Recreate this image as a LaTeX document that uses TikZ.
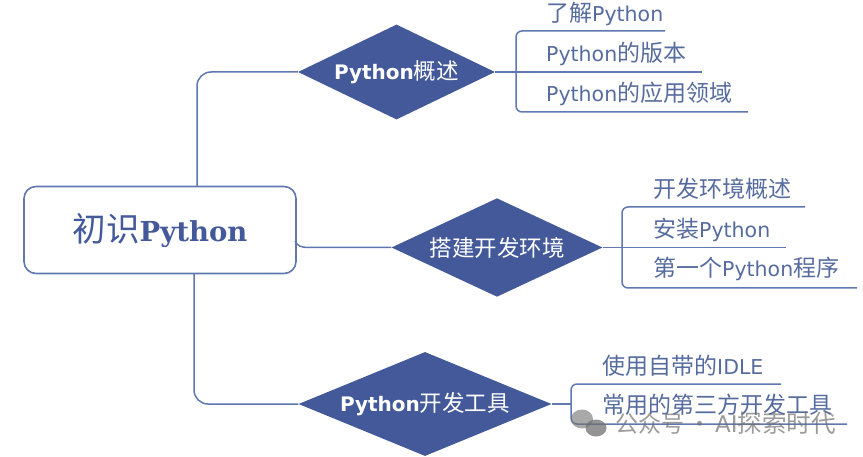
\documentclass[tikz,border=0pt]{standalone}
\usepackage{fontspec}
\setmainfont{DejaVu Sans}
\newfontfamily\cjkfam{Noto Sans CJK SC}
\newfontfamily\slabfam{DejaVu Serif}
\newcommand{\cj}[1]{{\cjkfam\fontsize{23}{23}\selectfont #1}}
\newcommand{\cjt}[1]{{\cjkfam\mdseries\fontsize{22.5}{22.5}\selectfont #1}}
\usetikzlibrary{shapes.geometric}
\definecolor{navy}{HTML}{43599A}
\definecolor{rule}{HTML}{5F78B0}
\definecolor{ink}{HTML}{566C9E}
\definecolor{wm}{HTML}{707070}
\tikzset{
 px/.style={x=1pt,y=-1pt},
 link/.style={draw=rule,line width=1.5pt,line join=round},
 rootbox/.style={draw=rule,line width=1.6pt,rounded corners=12pt,minimum width=272pt,minimum height=87pt,inner sep=0pt,fill=white},
 topic/.style={diamond,fill=navy,text=white,inner sep=0pt,font=\bfseries\fontsize{20}{20}\selectfont},
 leaf/.style={text=ink,anchor=west,inner sep=0pt,font=\fontsize{20.5}{20.5}\selectfont},
}
\begin{document}
\begin{tikzpicture}[px]
\useasboundingbox (0,0) rectangle (863,457);
\node[rootbox] (root) at (160,230) {};
\node[text=navy,inner sep=0pt] (rootlabel) at (160,230) {{\cjkfam\fontsize{33.5}{33.5}\selectfont 初识}{\slabfam\bfseries\fontsize{27.5}{27.5}\selectfont Python}};
\node[topic,aspect=2.08,minimum width=197pt,minimum height=95pt] (t1) at (396.5,72) {Python\cjt{概述}};
\node[topic,aspect=2.14,minimum width=211pt,minimum height=98.5pt] (t2) at (497,247.5) {\cjt{搭建开发环境}};
\node[topic,aspect=2.43,minimum width=253pt,minimum height=104pt] (t3) at (425,404) {Python\cjt{开发工具}};
\coordinate (r1) at (197,186);
\coordinate (r2) at (295,241);
\coordinate (r3) at (194,274);
\draw[link,rounded corners=14pt] (r1) -- (197,72) -- (t1.west);
\draw[link] (r2) .. controls (297,245.5) and (301,247.5) .. (308,247.5) -- (t2.west);
\draw[link,rounded corners=14pt] (r3) -- (194,404) -- (t3.west);
\node[leaf] (a1) at (546,14) {\cj{了解}Python};
\node[leaf] (a2) at (546,54) {Python\cj{的版本}};
\node[leaf] (a3) at (546,94) {Python\cj{的应用领域}};
\node[leaf] (b1) at (653,189) {\cj{开发环境概述}};
\node[leaf] (b2) at (653,230) {\cj{安装}Python};
\node[leaf] (b3) at (653,269) {\cj{第一个}Python\cj{程序}};
\node[leaf] (c1) at (602,366) {\cj{使用自带的}IDLE};
\node[leaf] (c2) at (602,405) {\cj{常用的第三方开发工具}};
\coordinate (a1e) at (665,31); \coordinate (a2e) at (702,72); \coordinate (a3e) at (748,112);
\coordinate (b1e) at (805,207); \coordinate (b2e) at (786,247.5); \coordinate (b3e) at (857,288);
\coordinate (c1e) at (781,384); \coordinate (c2e) at (847,424);
\draw[link,rounded corners=6pt] (a1e) -- (516,31) -- (516,112) -- (a3e);
\draw[link] (t1.east) -- (a2e);
\draw[link,rounded corners=6pt] (b1e) -- (622,207) -- (622,288) -- (b3e);
\draw[link] (t2.east) -- (b2e);
\draw[link,rounded corners=6pt] (c1e) -- (571,384) -- (571,424) -- (c2e);
\draw[link] (t3.east) -- (571,404);
\fill[wm,opacity=.6] (582,419) ellipse (11pt and 9.5pt);
\fill[wm,opacity=.75] (596,428) ellipse (10.5pt and 8.5pt);
\node[text=wm,opacity=.7,anchor=west,inner sep=0pt] (mark) at (615,423) {{\cjkfam\fontsize{23}{23}\selectfont 公众号}\hspace{4pt}{\cjkfam\fontsize{23}{23}\selectfont ·}\hspace{4pt}{\fontsize{23}{23}\selectfont AI}{\cjkfam\fontsize{24.5}{24.5}\selectfont 探索时代}};
\end{tikzpicture}
\end{document}
